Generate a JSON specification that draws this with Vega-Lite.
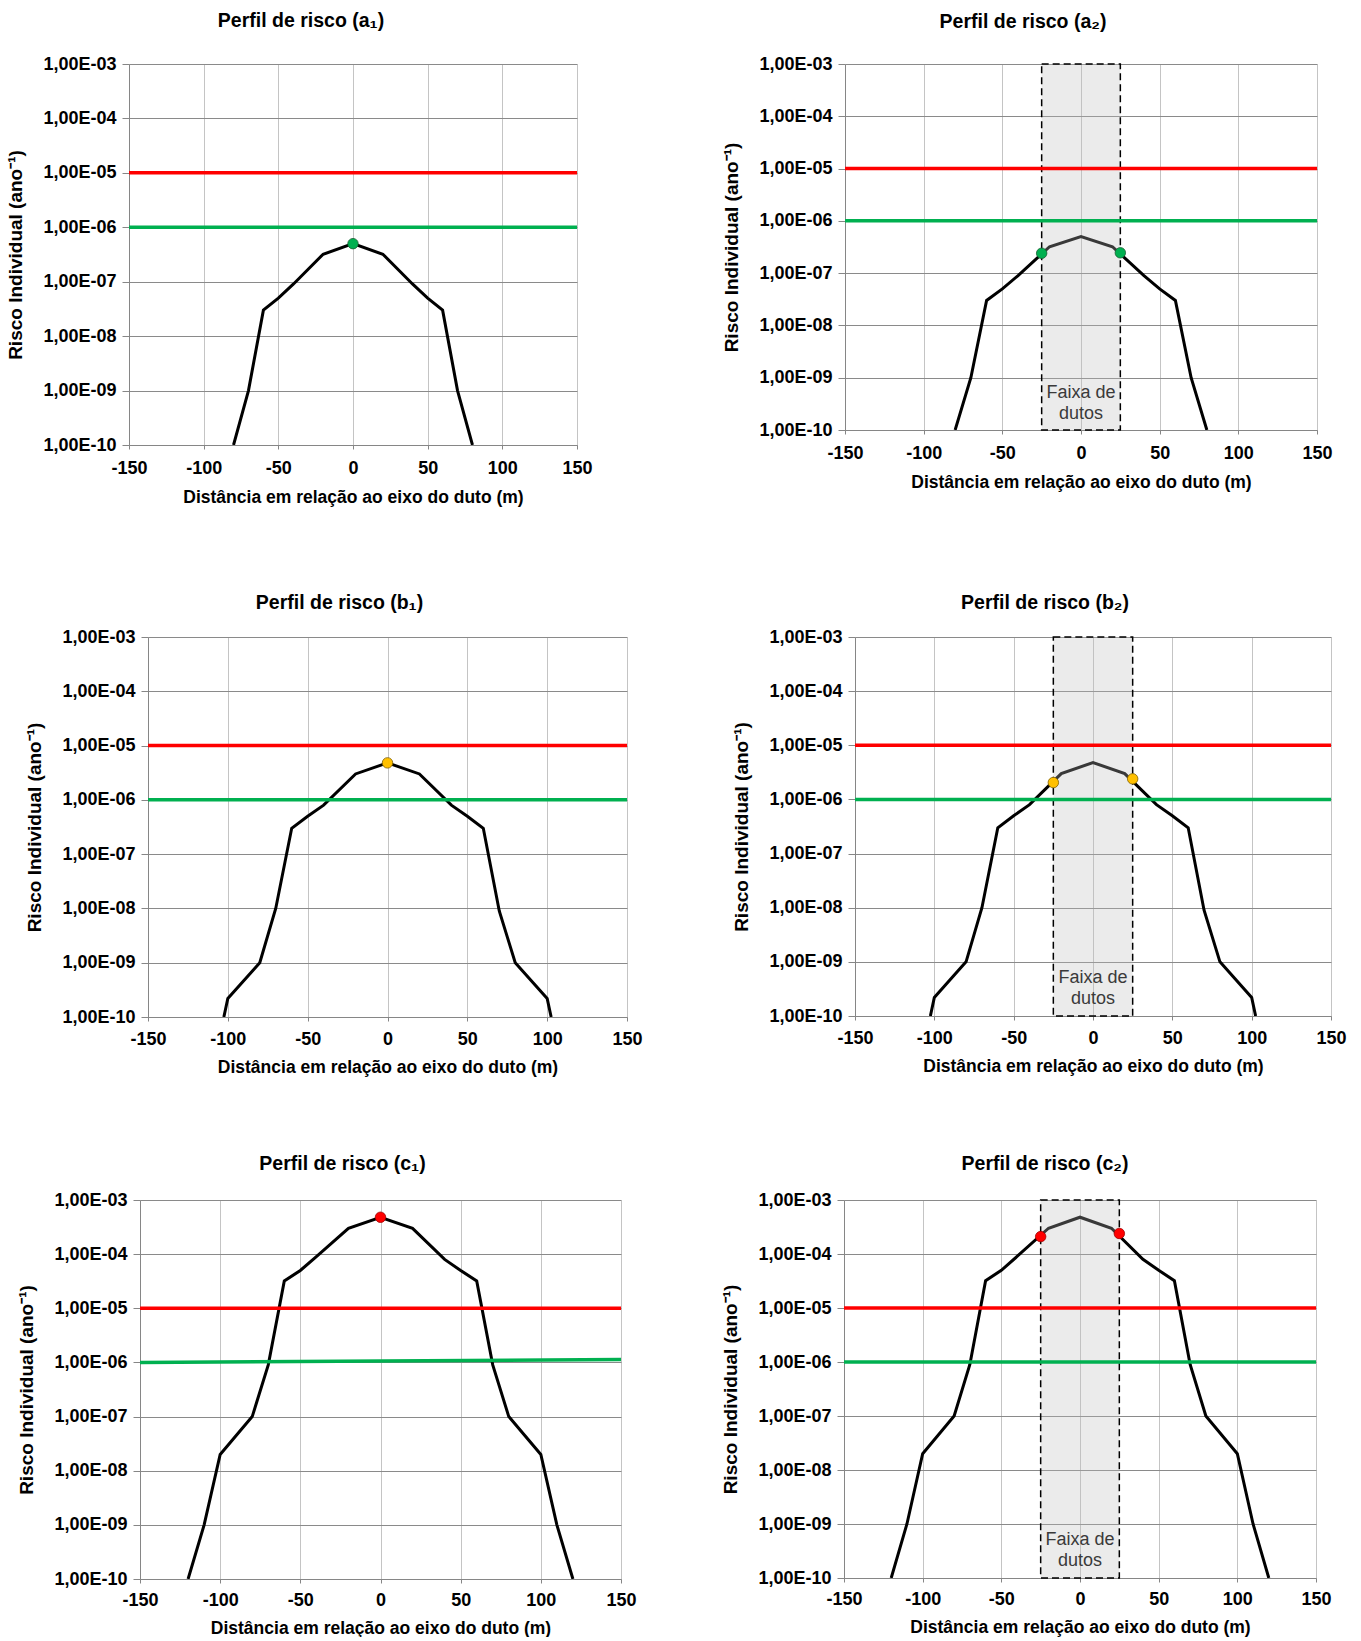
{
  "$schema": "https://vega.github.io/schema/vega-lite/v6.json",
  "background": "white",
  "padding": {"left": 5, "top": 10, "right": 5, "bottom": 0},
  "datasets": {
    "curves": [
      {"c": "a", "x": -80, "y": 1e-10}, {"c": "a", "x": -70, "y": 1e-9}, {"c": "a", "x": -60, "y": 3e-8}, {"c": "a", "x": -50, "y": 5e-8}, {"c": "a", "x": -40, "y": 9e-8}, {"c": "a", "x": -20, "y": 3.2e-7}, {"c": "a", "x": 0, "y": 5e-7}, {"c": "a", "x": 20, "y": 3.2e-7}, {"c": "a", "x": 40, "y": 9e-8}, {"c": "a", "x": 50, "y": 5e-8}, {"c": "a", "x": 60, "y": 3e-8}, {"c": "a", "x": 70, "y": 1e-9}, {"c": "a", "x": 80, "y": 1e-10},
      {"c": "b", "x": -102.5, "y": 1e-10}, {"c": "b", "x": -100, "y": 2.2e-10}, {"c": "b", "x": -80, "y": 1e-9}, {"c": "b", "x": -70, "y": 1e-8}, {"c": "b", "x": -60, "y": 3e-7}, {"c": "b", "x": -50, "y": 5e-7}, {"c": "b", "x": -40, "y": 8e-7}, {"c": "b", "x": -20, "y": 3e-6}, {"c": "b", "x": 0, "y": 4.8e-6}, {"c": "b", "x": 20, "y": 3e-6}, {"c": "b", "x": 40, "y": 8e-7}, {"c": "b", "x": 50, "y": 5e-7}, {"c": "b", "x": 60, "y": 3e-7}, {"c": "b", "x": 70, "y": 9e-9}, {"c": "b", "x": 80, "y": 1e-9}, {"c": "b", "x": 100, "y": 2.2e-10}, {"c": "b", "x": 102.5, "y": 1e-10},
      {"c": "c", "x": -120, "y": 1e-10}, {"c": "c", "x": -110, "y": 1e-9}, {"c": "c", "x": -100, "y": 2e-8}, {"c": "c", "x": -80, "y": 1e-7}, {"c": "c", "x": -70, "y": 9e-7}, {"c": "c", "x": -60, "y": 3.2e-5}, {"c": "c", "x": -50, "y": 5e-5}, {"c": "c", "x": -40, "y": 9e-5}, {"c": "c", "x": -20, "y": 3e-4}, {"c": "c", "x": 0, "y": 4.8e-4}, {"c": "c", "x": 20, "y": 3e-4}, {"c": "c", "x": 40, "y": 8e-5}, {"c": "c", "x": 50, "y": 5e-5}, {"c": "c", "x": 60, "y": 3.2e-5}, {"c": "c", "x": 70, "y": 9e-7}, {"c": "c", "x": 80, "y": 1e-7}, {"c": "c", "x": 100, "y": 2e-8}, {"c": "c", "x": 110, "y": 1e-9}, {"c": "c", "x": 120, "y": 1e-10}
    ],
    "limits": [
      {"k": "red", "x": -150, "y": 1e-5}, {"k": "red", "x": 150, "y": 1e-5},
      {"k": "green", "x": -150, "y": 1e-6}, {"k": "green", "x": 150, "y": 1e-6}
    ],
    "limitsC1": [
      {"k": "red", "x": -150, "y": 1e-5}, {"k": "red", "x": 150, "y": 1e-5},
      {"k": "green", "x": -150, "y": 1e-6}, {"k": "green", "x": 150, "y": 1.13e-6}
    ],
    "points": [
      {"p": "a1", "x": 0, "y": 5e-7},
      {"p": "a2", "x": -25, "y": 2.4e-7}, {"p": "a2", "x": 25, "y": 2.45e-7},
      {"p": "b1", "x": 0, "y": 4.8e-6},
      {"p": "b2", "x": -25, "y": 2.05e-6}, {"p": "b2", "x": 25, "y": 2.4e-6},
      {"p": "c1", "x": 0, "y": 4.8e-4},
      {"p": "c2", "x": -25, "y": 2.1e-4}, {"p": "c2", "x": 25, "y": 2.4e-4}
    ],
    "band": [{"x1": -25, "x2": 25, "y1": 1e-10, "y2": 1e-3}],
    "bandLabel": [{"x": 0, "y": 5e-10, "t": "Faixa de\ndutos"}],
    "empty": []
  },
  "columns": 1,
  "align": "none",
  "spacing": 86,
  "concat": [
    {
      "spacing": 0,
      "hconcat": [
        {"width": 1, "height": 1, "data": {"name": "empty"}, "mark": "point", "encoding": {}},
        {
          "spacing": 129,
          "hconcat": [
            {
              "width": 448, "height": 381,
              "title": {"text": "Perfil de risco (a₁)", "offset": 24, "dx": -52},
              "layer": [
                {"data": {"name": "curves"}, "transform": [{"filter": "datum.c == 'a'"}],
                 "mark": {"type": "line", "color": "#000000", "strokeWidth": 3, "clip": true},
                 "encoding": {
                   "x": {"field": "x", "type": "quantitative", "title": "Distância em relação ao eixo do duto (m)", "scale": {"domain": [-150, 150], "nice": false, "zero": false}, "axis": {"values": [-150, -100, -50, 0, 50, 100, 150], "labelExpr": "'' + datum.value", "labelPadding": 10.5, "titlePadding": 10.5}},
                   "y": {"field": "y", "type": "quantitative", "title": "Risco Individual (ano⁻¹)", "scale": {"type": "log", "domain": [1e-10, 1e-3], "nice": false}, "axis": {"values": [1e-10, 1e-9, 1e-8, 1e-7, 1e-6, 1e-5, 1e-4, 1e-3], "labelExpr": "'1,00E-' + (round(-log(datum.value)/LN10) < 10 ? '0' : '') + round(-log(datum.value)/LN10)"}}
                 }},
                {"data": {"name": "limits"}, "mark": {"type": "line", "strokeWidth": 3.5},
                 "encoding": {"x": {"field": "x", "type": "quantitative"}, "y": {"field": "y", "type": "quantitative"}, "color": {"field": "k", "type": "nominal", "scale": {"domain": ["red", "green"], "range": ["#ff0000", "#00b050"]}, "legend": null}}},
                {"data": {"name": "points"}, "transform": [{"filter": "datum.p == 'a1'"}],
                 "mark": {"type": "point", "shape": "circle", "filled": true, "fill": "#00b050", "stroke": "#1b5e33", "strokeWidth": 0.8, "size": 110, "opacity": 1},
                 "encoding": {"x": {"field": "x", "type": "quantitative"}, "y": {"field": "y", "type": "quantitative"}}}
              ]
            },
            {
              "width": 472, "height": 366,
              "title": {"text": "Perfil de risco (a₂)", "offset": 23, "dx": -58},
              "layer": [
                {"data": {"name": "curves"}, "transform": [{"filter": "datum.c == 'a'"}],
                 "mark": {"type": "line", "color": "#000000", "strokeWidth": 3, "clip": true},
                 "encoding": {
                   "x": {"field": "x", "type": "quantitative", "title": "Distância em relação ao eixo do duto (m)", "scale": {"domain": [-150, 150], "nice": false, "zero": false}, "axis": {"values": [-150, -100, -50, 0, 50, 100, 150], "labelExpr": "'' + datum.value", "labelPadding": 10.5, "titlePadding": 10.5}},
                   "y": {"field": "y", "type": "quantitative", "title": "Risco Individual (ano⁻¹)", "scale": {"type": "log", "domain": [1e-10, 1e-3], "nice": false}, "axis": {"values": [1e-10, 1e-9, 1e-8, 1e-7, 1e-6, 1e-5, 1e-4, 1e-3], "labelExpr": "'1,00E-' + (round(-log(datum.value)/LN10) < 10 ? '0' : '') + round(-log(datum.value)/LN10)"}}
                 }},
                {"data": {"name": "band"}, "mark": {"type": "rect", "fill": "#bdbdbd", "fillOpacity": 0.3, "stroke": "#000000", "strokeWidth": 1.5, "strokeDash": [7, 4]},
                 "encoding": {"x": {"field": "x1", "type": "quantitative"}, "x2": {"field": "x2"}, "y": {"field": "y1", "type": "quantitative"}, "y2": {"field": "y2"}}},
                {"data": {"name": "limits"}, "mark": {"type": "line", "strokeWidth": 3.5},
                 "encoding": {"x": {"field": "x", "type": "quantitative"}, "y": {"field": "y", "type": "quantitative"}, "color": {"field": "k", "type": "nominal", "scale": {"domain": ["red", "green"], "range": ["#ff0000", "#00b050"]}, "legend": null}}},
                {"data": {"name": "points"}, "transform": [{"filter": "datum.p == 'a2'"}],
                 "mark": {"type": "point", "shape": "circle", "filled": true, "fill": "#00b050", "stroke": "#1b5e33", "strokeWidth": 0.8, "size": 110, "opacity": 1},
                 "encoding": {"x": {"field": "x", "type": "quantitative"}, "y": {"field": "y", "type": "quantitative"}}},
                {"data": {"name": "bandLabel"}, "mark": {"type": "text", "font": "Liberation Sans", "fontSize": 18, "color": "#3a3a3a", "lineBreak": "\n", "lineHeight": 21, "align": "center", "baseline": "middle"},
                 "encoding": {"x": {"field": "x", "type": "quantitative"}, "y": {"field": "y", "type": "quantitative"}, "text": {"field": "t"}}}
              ]
            }
          ]
        }
      ]
    },
    {
      "columns": 1,
      "align": "none",
      "spacing": 77,
      "concat": [
        {
          "spacing": 19,
          "hconcat": [
            {"width": 1, "height": 1, "data": {"name": "empty"}, "mark": "point", "encoding": {}},
            {
              "spacing": 89,
              "hconcat": [
                {
                  "width": 479, "height": 380,
                  "title": {"text": "Perfil de risco (b₁)", "offset": 15, "dx": -48},
                  "layer": [
                    {"data": {"name": "curves"}, "transform": [{"filter": "datum.c == 'b'"}],
                     "mark": {"type": "line", "color": "#000000", "strokeWidth": 3, "clip": true},
                     "encoding": {
                       "x": {"field": "x", "type": "quantitative", "title": "Distância em relação ao eixo do duto (m)", "scale": {"domain": [-150, 150], "nice": false, "zero": false}, "axis": {"values": [-150, -100, -50, 0, 50, 100, 150], "labelExpr": "'' + datum.value", "labelPadding": 9, "titlePadding": 10}},
                       "y": {"field": "y", "type": "quantitative", "title": "Risco Individual (ano⁻¹)", "scale": {"type": "log", "domain": [1e-10, 1e-3], "nice": false}, "axis": {"values": [1e-10, 1e-9, 1e-8, 1e-7, 1e-6, 1e-5, 1e-4, 1e-3], "labelExpr": "'1,00E-' + (round(-log(datum.value)/LN10) < 10 ? '0' : '') + round(-log(datum.value)/LN10)"}}
                     }},
                    {"data": {"name": "limits"}, "mark": {"type": "line", "strokeWidth": 3.5},
                     "encoding": {"x": {"field": "x", "type": "quantitative"}, "y": {"field": "y", "type": "quantitative"}, "color": {"field": "k", "type": "nominal", "scale": {"domain": ["red", "green"], "range": ["#ff0000", "#00b050"]}, "legend": null}}},
                    {"data": {"name": "points"}, "transform": [{"filter": "datum.p == 'b1'"}],
                     "mark": {"type": "point", "shape": "circle", "filled": true, "fill": "#ffc000", "stroke": "#7f6000", "strokeWidth": 0.8, "size": 110, "opacity": 1},
                     "encoding": {"x": {"field": "x", "type": "quantitative"}, "y": {"field": "y", "type": "quantitative"}}}
                  ]
                },
                {
                  "width": 476, "height": 379,
                  "title": {"text": "Perfil de risco (b₂)", "offset": 15, "dx": -48},
                  "layer": [
                    {"data": {"name": "curves"}, "transform": [{"filter": "datum.c == 'b'"}],
                     "mark": {"type": "line", "color": "#000000", "strokeWidth": 3, "clip": true},
                     "encoding": {
                       "x": {"field": "x", "type": "quantitative", "title": "Distância em relação ao eixo do duto (m)", "scale": {"domain": [-150, 150], "nice": false, "zero": false}, "axis": {"values": [-150, -100, -50, 0, 50, 100, 150], "labelExpr": "'' + datum.value", "labelPadding": 9, "titlePadding": 10}},
                       "y": {"field": "y", "type": "quantitative", "title": "Risco Individual (ano⁻¹)", "scale": {"type": "log", "domain": [1e-10, 1e-3], "nice": false}, "axis": {"values": [1e-10, 1e-9, 1e-8, 1e-7, 1e-6, 1e-5, 1e-4, 1e-3], "labelExpr": "'1,00E-' + (round(-log(datum.value)/LN10) < 10 ? '0' : '') + round(-log(datum.value)/LN10)"}}
                     }},
                    {"data": {"name": "band"}, "mark": {"type": "rect", "fill": "#bdbdbd", "fillOpacity": 0.3, "stroke": "#000000", "strokeWidth": 1.5, "strokeDash": [7, 4]},
                     "encoding": {"x": {"field": "x1", "type": "quantitative"}, "x2": {"field": "x2"}, "y": {"field": "y1", "type": "quantitative"}, "y2": {"field": "y2"}}},
                    {"data": {"name": "limits"}, "mark": {"type": "line", "strokeWidth": 3.5},
                     "encoding": {"x": {"field": "x", "type": "quantitative"}, "y": {"field": "y", "type": "quantitative"}, "color": {"field": "k", "type": "nominal", "scale": {"domain": ["red", "green"], "range": ["#ff0000", "#00b050"]}, "legend": null}}},
                    {"data": {"name": "points"}, "transform": [{"filter": "datum.p == 'b2'"}],
                     "mark": {"type": "point", "shape": "circle", "filled": true, "fill": "#ffc000", "stroke": "#7f6000", "strokeWidth": 0.8, "size": 110, "opacity": 1},
                     "encoding": {"x": {"field": "x", "type": "quantitative"}, "y": {"field": "y", "type": "quantitative"}}},
                    {"data": {"name": "bandLabel"}, "mark": {"type": "text", "font": "Liberation Sans", "fontSize": 18, "color": "#3a3a3a", "lineBreak": "\n", "lineHeight": 21, "align": "center", "baseline": "middle"},
                     "encoding": {"x": {"field": "x", "type": "quantitative"}, "y": {"field": "y", "type": "quantitative"}, "text": {"field": "t"}}}
                  ]
                }
              ]
            }
          ]
        },
        {
          "spacing": 11,
          "hconcat": [
            {"width": 1, "height": 1, "data": {"name": "empty"}, "mark": "point", "encoding": {}},
            {
              "spacing": 84,
              "hconcat": [
                {
                  "width": 481, "height": 379,
                  "title": {"text": "Perfil de risco (c₁)", "offset": 17, "dx": -38},
                  "layer": [
                    {"data": {"name": "curves"}, "transform": [{"filter": "datum.c == 'c'"}],
                     "mark": {"type": "line", "color": "#000000", "strokeWidth": 3, "clip": true},
                     "encoding": {
                       "x": {"field": "x", "type": "quantitative", "title": "Distância em relação ao eixo do duto (m)", "scale": {"domain": [-150, 150], "nice": false, "zero": false}, "axis": {"values": [-150, -100, -50, 0, 50, 100, 150], "labelExpr": "'' + datum.value", "labelPadding": 8, "titlePadding": 10}},
                       "y": {"field": "y", "type": "quantitative", "title": "Risco Individual (ano⁻¹)", "scale": {"type": "log", "domain": [1e-10, 1e-3], "nice": false}, "axis": {"values": [1e-10, 1e-9, 1e-8, 1e-7, 1e-6, 1e-5, 1e-4, 1e-3], "labelExpr": "'1,00E-' + (round(-log(datum.value)/LN10) < 10 ? '0' : '') + round(-log(datum.value)/LN10)"}}
                     }},
                    {"data": {"name": "limitsC1"}, "mark": {"type": "line", "strokeWidth": 3.5},
                     "encoding": {"x": {"field": "x", "type": "quantitative"}, "y": {"field": "y", "type": "quantitative"}, "color": {"field": "k", "type": "nominal", "scale": {"domain": ["red", "green"], "range": ["#ff0000", "#00b050"]}, "legend": null}}},
                    {"data": {"name": "points"}, "transform": [{"filter": "datum.p == 'c1'"}],
                     "mark": {"type": "point", "shape": "circle", "filled": true, "fill": "#ff0000", "stroke": "#a00000", "strokeWidth": 0.8, "size": 110, "opacity": 1},
                     "encoding": {"x": {"field": "x", "type": "quantitative"}, "y": {"field": "y", "type": "quantitative"}}}
                  ]
                },
                {
                  "width": 472, "height": 378,
                  "title": {"text": "Perfil de risco (c₂)", "offset": 17, "dx": -35},
                  "layer": [
                    {"data": {"name": "curves"}, "transform": [{"filter": "datum.c == 'c'"}],
                     "mark": {"type": "line", "color": "#000000", "strokeWidth": 3, "clip": true},
                     "encoding": {
                       "x": {"field": "x", "type": "quantitative", "title": "Distância em relação ao eixo do duto (m)", "scale": {"domain": [-150, 150], "nice": false, "zero": false}, "axis": {"values": [-150, -100, -50, 0, 50, 100, 150], "labelExpr": "'' + datum.value", "labelPadding": 8, "titlePadding": 10}},
                       "y": {"field": "y", "type": "quantitative", "title": "Risco Individual (ano⁻¹)", "scale": {"type": "log", "domain": [1e-10, 1e-3], "nice": false}, "axis": {"values": [1e-10, 1e-9, 1e-8, 1e-7, 1e-6, 1e-5, 1e-4, 1e-3], "labelExpr": "'1,00E-' + (round(-log(datum.value)/LN10) < 10 ? '0' : '') + round(-log(datum.value)/LN10)"}}
                     }},
                    {"data": {"name": "band"}, "mark": {"type": "rect", "fill": "#bdbdbd", "fillOpacity": 0.3, "stroke": "#000000", "strokeWidth": 1.5, "strokeDash": [7, 4]},
                     "encoding": {"x": {"field": "x1", "type": "quantitative"}, "x2": {"field": "x2"}, "y": {"field": "y1", "type": "quantitative"}, "y2": {"field": "y2"}}},
                    {"data": {"name": "limits"}, "mark": {"type": "line", "strokeWidth": 3.5},
                     "encoding": {"x": {"field": "x", "type": "quantitative"}, "y": {"field": "y", "type": "quantitative"}, "color": {"field": "k", "type": "nominal", "scale": {"domain": ["red", "green"], "range": ["#ff0000", "#00b050"]}, "legend": null}}},
                    {"data": {"name": "points"}, "transform": [{"filter": "datum.p == 'c2'"}],
                     "mark": {"type": "point", "shape": "circle", "filled": true, "fill": "#ff0000", "stroke": "#a00000", "strokeWidth": 0.8, "size": 110, "opacity": 1},
                     "encoding": {"x": {"field": "x", "type": "quantitative"}, "y": {"field": "y", "type": "quantitative"}}},
                    {"data": {"name": "bandLabel"}, "mark": {"type": "text", "font": "Liberation Sans", "fontSize": 18, "color": "#3a3a3a", "lineBreak": "\n", "lineHeight": 21, "align": "center", "baseline": "middle"},
                     "encoding": {"x": {"field": "x", "type": "quantitative"}, "y": {"field": "y", "type": "quantitative"}, "text": {"field": "t"}}}
                  ]
                }
              ]
            }
          ]
        }
      ]
    }
  ],
  "config": {
    "font": "Liberation Sans",
    "view": {"stroke": null},
    "title": {"font": "Liberation Sans", "fontSize": 19.5, "fontWeight": "bold", "color": "#000000", "anchor": "middle"},
    "axis": {"labelFont": "Liberation Sans", "labelFontSize": 18, "labelFontWeight": "bold", "labelColor": "#000000", "titleFont": "Liberation Sans", "titleFontSize": 17.5, "titleFontWeight": "bold", "titleColor": "#000000", "domainColor": "#868686", "tickColor": "#868686", "labelOverlap": false, "labelFlush": false, "grid": true},
    "axisX": {"gridColor": "#c4c4c4", "tickSize": 4},
    "axisY": {"gridColor": "#8a8a8a", "tickSize": 7, "labelPadding": 6, "titlePadding": 17, "titleFontSize": 19}
  }
}
